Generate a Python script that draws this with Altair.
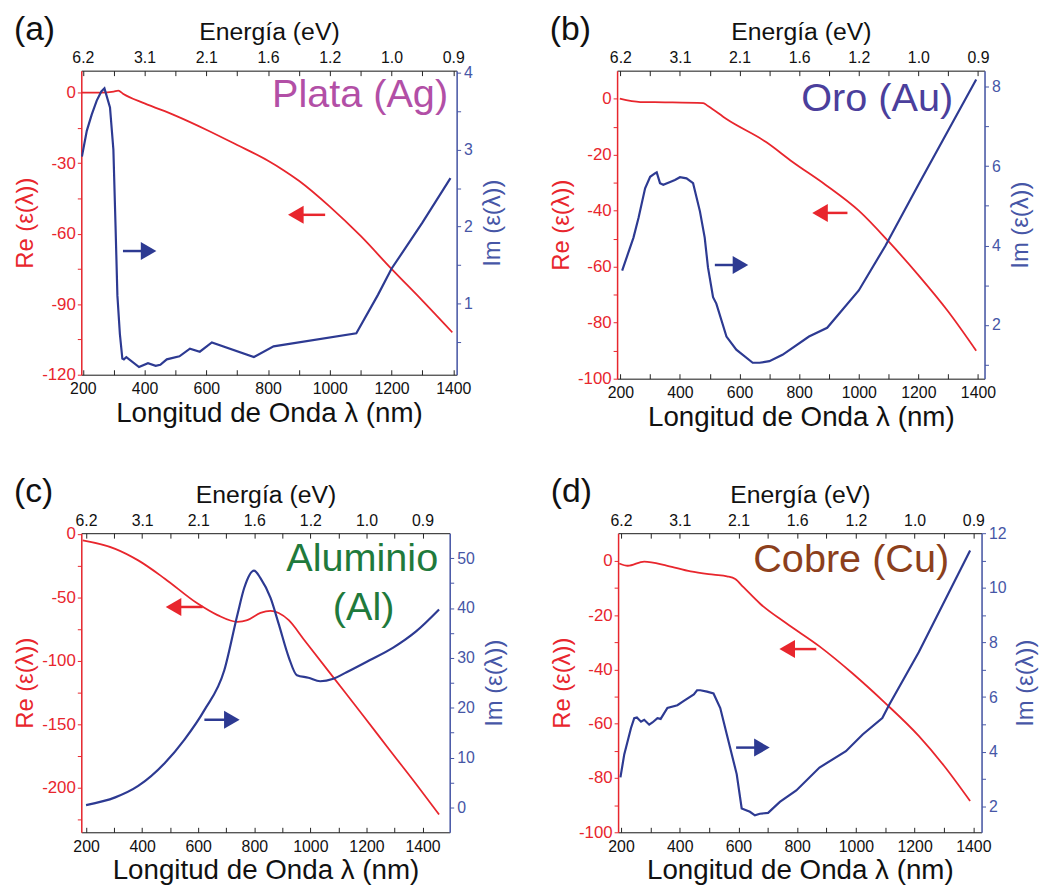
import altair as alt
import pandas as pd

FONT = "Liberation Sans"
RED = "#e8262d"
BLUE = "#2d3a92"
BLUE_AX = "#4656a6"

# ---------------- data ----------------
# (a) Plata (Ag)
a_re_lam = [197, 260, 300, 315, 330, 400, 500, 600, 700, 800, 850, 900, 1000, 1100, 1200, 1300, 1397]
a_re = [0, 0, 0.4, 0.8, -0.5, -4.6, -9.8, -15.8, -22.3, -29, -33, -37.5, -48.5, -61, -75, -88.5, -102]
a_im_lam = [197, 213, 229, 245, 260, 270, 288, 299, 306, 312, 320, 328, 333, 341, 382, 411, 436,
            451, 472, 513, 547, 579, 618, 754, 818, 1086, 1156, 1200, 1300, 1391]
a_im = [2.91, 3.25, 3.46, 3.64, 3.76, 3.8, 3.55, 3.0, 2.0, 1.1, 0.6, 0.28, 0.27, 0.30, 0.17, 0.22,
        0.185, 0.2, 0.27, 0.31, 0.41, 0.37, 0.49, 0.3, 0.44, 0.61, 1.11, 1.45, 2.05, 2.63]

# (b) Oro (Au)
b_re_lam = [198, 267, 350, 478, 494, 556, 689, 778, 889, 1000, 1100, 1200, 1300, 1394]
b_re = [0, -1.2, -1.3, -1.6, -2.6, -7.3, -15.5, -22.6, -30.8, -40, -51, -63, -76, -90]
b_im_lam = [206, 244, 261, 283, 300, 317, 322, 333, 344, 367, 383, 400, 422, 444, 467, 483, 494,
            511, 522, 556, 589, 644, 667, 700, 744, 833, 894, 1000, 1089, 1200, 1394]
b_im = [3.37, 4.2, 4.7, 5.44, 5.73, 5.82, 5.84, 5.57, 5.53, 5.6, 5.65, 5.72, 5.69, 5.57, 4.86, 4.2,
        3.45, 2.7, 2.54, 1.71, 1.38, 1.05, 1.05, 1.09, 1.25, 1.71, 1.93, 2.87, 3.99, 5.53, 8.18]

# (c) Aluminio (Al)
c_re_lam = [188, 304, 386, 481, 598, 669, 740, 775, 822, 858, 887, 923, 976, 1082, 1188, 1282, 1377, 1459]
c_re = [-5.2, -11.8, -20.9, -35.3, -54.9, -64, -69.3, -68, -62.3, -60.7, -62.3, -68, -83, -113,
        -143, -170, -197, -221]
c_im_lam = [200, 304, 386, 481, 551, 622, 693, 740, 764, 799, 822, 858, 887, 923, 952, 993, 1035,
            1082, 1129, 1211, 1294, 1377, 1459]
c_im = [0.46, 2, 4.3, 8.9, 13.6, 19.5, 27.5, 38.7, 44, 47.5, 46, 42, 36.8, 30.1, 26.5, 26, 25.3,
        25.8, 27.1, 29.5, 32, 35.3, 39.7]

# (d) Cobre (Cu)
d_re_lam = [194, 223, 279, 358, 437, 515, 561, 589, 617, 673, 763, 876, 989, 1101, 1214, 1300, 1389]
d_re = [-0.96, -1.8, -0.24, -1.8, -3.9, -5.1, -5.7, -6.7, -9.7, -15.7, -23, -31.5, -41.5, -52.5,
        -64.5, -75.5, -88.5]
d_im_lam = [198, 211, 234, 245, 254, 268, 279, 296, 307, 324, 335, 358, 392, 414, 448, 459, 470, 493,
            515, 538, 561, 594, 611, 639, 656, 673, 701, 741, 797, 876, 966, 1023, 1090, 1113, 1214, 1389]
d_im = [3.06, 3.9, 4.87, 5.23, 5.25, 5.1, 5.17, 4.99, 5.07, 5.23, 5.2, 5.6, 5.7, 5.86, 6.1, 6.25,
        6.25, 6.2, 6.13, 5.6, 4.6, 3.18, 1.92, 1.8, 1.67, 1.73, 1.76, 2.16, 2.58, 3.42, 4.02, 4.63,
        5.23, 5.71, 7.64, 11.37]

wavelength_ticks = list(range(200, 1401, 100))
energy_labels = ["6.2", "3.1", "2.1", "1.6", "1.2", "1.0", "0.9"]


def steps(lo, hi, step):
    n = int(round((hi - lo) / step))
    return [round(lo + i * step, 6) for i in range(n + 1)]


def major_expr(m):
    m = str(m)
    return ("abs(datum.value / " + m + " - round(datum.value / " + m + ")) < 1e-6"
            " ? '' + round(datum.value) : ''")


def panel(tag, name_lines, name_color, name_pos, re_lam, re_vals, im_lam, im_vals,
          xdom, redom, imdom, re_ticks, re_major, im_ticks, im_major,
          red_arrow, blue_arrow, tri_dx, width, height, im_interp="linear"):
    df_re = pd.DataFrame({"lam": re_lam, "re": re_vals})
    df_im = pd.DataFrame({"lam": im_lam, "im": im_vals})
    one = pd.DataFrame({"k": [0]})

    xs = alt.Scale(domain=xdom, nice=False, zero=False)
    yre = alt.Scale(domain=redom, nice=False, zero=False)
    yim = alt.Scale(domain=imdom, nice=False, zero=False)

    bottom_axis = alt.Axis(
        title="Longitud de Onda λ (nm)", values=wavelength_ticks,
        labelExpr="datum.value % 200 === 0 ? '' + datum.value : ''",
        tickSize=alt.ExprRef(expr="-5"), labelPadding=11, titlePadding=3,
        labelFontSize=16, titleFontSize=28, titleFontWeight="normal",
        domainColor="#222", tickColor="#222", labelColor="#111", titleColor="#111",
        labelFlush=False, labelOverlap=False, grid=False)
    en_arr = "[" + ",".join("'" + e + "'" for e in energy_labels) + "]"
    top_axis = alt.Axis(
        orient="top", title="Energía (eV)", values=wavelength_ticks,
        labelExpr="datum.value % 200 === 0 ? " + en_arr + "[(datum.value - 200) / 200] : ''",
        tickSize=alt.ExprRef(expr="-5"), labelPadding=10, titlePadding=5,
        labelFontSize=16, titleFontSize=25, titleFontWeight="normal",
        domainColor="#222", tickColor="#222", labelColor="#111", titleColor="#111",
        labelFlush=False, labelOverlap=False, grid=False)
    left_axis = alt.Axis(
        title="Re (ε(λ))", values=re_ticks,
        labelExpr=major_expr(re_major),
        tickSize=4, labelPadding=2, titlePadding=4,
        labelFontSize=17, titleFontSize=24, titleFontWeight="normal",
        domainColor=RED, tickColor=RED, labelColor=RED, titleColor=RED,
        domainWidth=1.5, labelOverlap=False, labelFlush=False, grid=False)
    right_axis = alt.Axis(
        orient="right", title="Im (ε(λ))", values=im_ticks,
        labelExpr=major_expr(im_major),
        tickSize=4, labelPadding=3, titlePadding=8, titleAngle=270, titleBaseline="top",
        labelFontSize=16, titleFontSize=24, titleFontWeight="normal",
        domainColor=BLUE_AX, tickColor=BLUE_AX, labelColor=BLUE_AX, titleColor=BLUE_AX,
        domainWidth=1.5, labelOverlap=False, labelFlush=False, grid=False)

    re_line = alt.Chart(df_re).mark_line(color=RED, strokeWidth=1.8, clip=True,
                                         interpolate="monotone").encode(
        x=alt.X("lam:Q", scale=xs, axis=bottom_axis),
        y=alt.Y("re:Q", scale=yre, axis=left_axis))
    im_line = alt.Chart(df_im).mark_line(color=BLUE, strokeWidth=2.2, clip=True,
                                         interpolate=im_interp).encode(
        x=alt.X("lam:Q", scale=xs, axis=None),
        y=alt.Y("im:Q", scale=yim, axis=right_axis))
    top = alt.Chart(df_re).mark_line(opacity=0).encode(
        x=alt.X("lam:Q", scale=xs, axis=top_axis),
        y=alt.Y("re:Q", scale=yre, axis=None))

    layers = [re_line, im_line, top]

    for (txt, (px, py)) in zip(name_lines, name_pos):
        layers.append(alt.Chart(one).mark_text(
            font=FONT, fontSize=40, color=name_color, align="center", baseline="alphabetic").encode(
            x=alt.X(datum=px, scale=xs, axis=None),
            y=alt.Y(datum=py, scale=yre, axis=None),
            text=alt.value(txt)))

    for (tail, tip, yv), col, shape, sgn in [(red_arrow, RED, "triangle-left", 1),
                                              (blue_arrow, BLUE, "triangle-right", -1)]:
        center = tip + sgn * tri_dx
        layers.append(alt.Chart(one).mark_rule(color=col, strokeWidth=2.5).encode(
            x=alt.X(datum=tail, scale=xs, axis=None),
            x2=alt.X2(datum=center),
            y=alt.Y(datum=yv, scale=yre, axis=None)))
        layers.append(alt.Chart(one).mark_point(
            shape=shape, filled=True, size=330, color=col, opacity=1).encode(
            x=alt.X(datum=center, scale=xs, axis=None),
            y=alt.Y(datum=yv, scale=yre, axis=None)))

    return alt.layer(*layers).resolve_scale(x="independent", y="independent").properties(
        width=width, height=height,
        title=alt.Title(tag, anchor="start", fontSize=34, font=FONT, fontWeight="normal",
                        color="#111", dx=0, dy=27, offset=0))


pa = panel("(a)", ["Plata (Ag)"], "#b24fa6", [(1098, -6.3)],
           a_re_lam, a_re, a_im_lam, a_im,
           [195, 1411], [-120, 9.3], [0.07, 4.03],
           steps(-120, 0, 15), 30, steps(0.5, 4, 0.5), 1,
           (985, 866, -52), (330, 437, -67.4), 24, 379, 307)
pb = panel("(b)", ["Oro (Au)"], "#4b3f9c", [(1062, -4.4)],
           b_re_lam, b_re, b_im_lam, b_im,
           [189, 1422], [-100, 10], [0.65, 8.4],
           steps(-100, 0, 10), 20, steps(1, 8, 1), 2,
           (962, 845, -40.8), (517, 628, -59.4), 25, 371, 311)
pc = panel("(c)", ["Aluminio", "(Al)"], "#1f7a3c", [(1185, -29.6), (1190, -68)],
           c_re_lam, c_re, c_im_lam, c_im,
           [183, 1497], [-235, 0.5], [-5, 55],
           steps(-225, 0, 25), 50, steps(0, 50, 5), 10,
           (616, 486, -57.6), (622, 746, -146.4), 26, 372, 302, im_interp="monotone")
pd_ = panel("(d)", ["Cobre (Cu)"], "#8c3f1c", [(984, -4.1)],
            d_re_lam, d_re, d_im_lam, d_im,
            [190, 1428], [-100, 10.2], [1.05, 12],
            steps(-100, 0, 10), 20, steps(2, 12, 1), 2,
            (865, 741, -32.5), (592, 705, -68.8), 25, 367, 302)

chart = alt.vconcat(
    alt.hconcat(pa, pb, spacing=44),
    alt.hconcat(pc, pd_, spacing=43),
    spacing=43,
    padding={"left": 5, "top": 0, "right": 0, "bottom": 0},
).configure_view(stroke=None).configure_axis(
    labelFont=FONT, titleFont=FONT, grid=False
).configure_title(font=FONT).configure(background="white")

chart.save("out.html", embed_options={"renderer": "svg", "actions": False})
